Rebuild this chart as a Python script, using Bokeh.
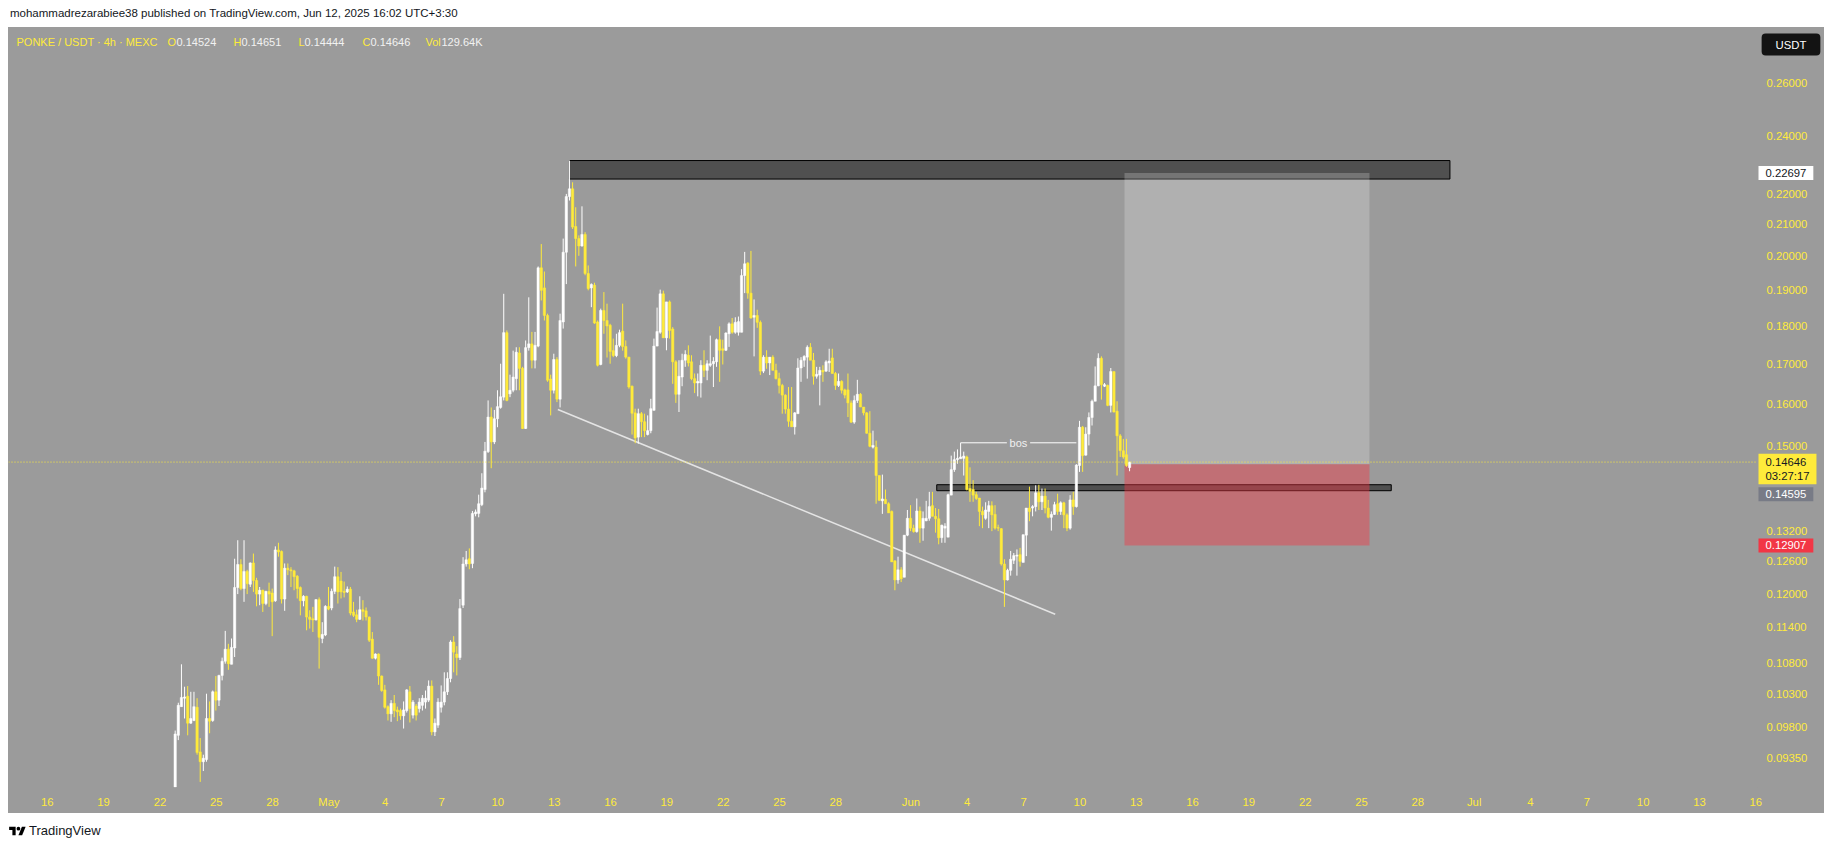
import numpy as np
import pandas as pd
from bokeh.plotting import figure
from bokeh.models import (Range1d, FixedTicker, PrintfTickFormatter, Label,
                          ColumnDataSource, Div, Span)
from bokeh.layouts import column, row
from bokeh.embed import file_html
from bokeh.resources import INLINE

# ---------------------------------------------------------------------------
# PONKE / USDT, 4h candles on MEXC (times shown in UTC+3:30)
# ---------------------------------------------------------------------------
first_open = "2025-04-22 19:30"

opens = [
    .0895, .0968, .1011, .1024, .1027, .0986, .0990, .1010, .0944, .0930,
    .0933, .0993, .0990, .1034, .1021, .1060, .1083, .1103, .1078, .1105,
    .1211, .1254, .1209, .1241, .1217, .1257, .1224, .1199, .1206, .1182,
    .1204, .1201, .1187, .1282, .1279, .1190, .1247, .1244, .1242, .1232,
    .1211, .1187, .1195, .1158, .1155, .1153, .1189, .1121, .1127, .1177,
    .1174, .1204, .1231, .1223, .1204, .1203, .1208, .1167, .1162, .1154,
    .1171, .1169, .1158, .1120, .1088, .1095, .1059, .1037, .1011, .1000,
    .1016, .1006, .1005, .0997, .1005, .1034, .0998, .1012, .1008, .1013,
    .1018, .1021, .1043, .0973, .0983, .1010, .1018, .1034, .1055, .1115,
    .1095, .1089, .1179, .1255, .1265, .1256, .1354, .1355, .1373, .1405,
    .1488, .1568, .1510, .1564, .1591, .1616, .1782, .1624, .1633, .1662,
    .1728, .1688, .1541, .1742, .1752, .1709, .1746, .1966, .1907, .1829,
    .1661, .1633, .1711, .1611, .1811, .2013, .2190, .2216, .2093, .2055,
    .2032, .2068, .1949, .1907, .1915, .1811, .1698, .1843, .1815, .1802,
    .1734, .1721, .1748, .1786, .1745, .1717, .1643, .1578, .1521, .1576,
    .1557, .1527, .1536, .1584, .1746, .1783, .1890, .1768, .1867, .1792,
    .1705, .1623, .1666, .1709, .1722, .1705, .1662, .1651, .1651, .1696,
    .1683, .1696, .1700, .1705, .1763, .1739, .1735, .1779, .1806, .1783,
    .1783, .1783, .1943, .1980, .1892, .1824, .1829, .1810, .1681, .1717,
    .1702, .1717, .1683, .1662, .1645, .1621, .1587, .1558, .1545, .1576,
    .1689, .1709, .1717, .1743, .1709, .1668, .1671, .1683, .1681, .1702,
    .1715, .1675, .1645, .1655, .1634, .1634, .1602, .1556, .1608, .1623,
    .1592, .1578, .1530, .1498, .1498, .1435, .1381, .1384, .1375, .1359,
    .1261, .1225, .1244, .1230, .1311, .1345, .1325, .1318, .1360, .1325,
    .1340, .1345, .1371, .1349, .1344, .1306, .1325, .1307, .1393, .1448,
    .1470, .1472, .1473, .1476, .1407, .1405, .1394, .1387, .1359, .1345,
    .1359, .1371, .1353, .1326, .1324, .1255, .1225, .1243, .1262, .1270,
    .1273, .1258, .1311, .1366, .1366, .1369, .1398, .1379, .1391, .1366,
    .1347, .1353, .1375, .1359, .1377, .1352, .1325, .1383, .1369, .1457,
    .1544, .1480, .1528, .1567, .1606, .1644, .1714, .1643, .1645, .1596,
    .1680, .1582, .1524, .1490, .1481, .14524,
]

highs = [
    .0975, .1017, .1078, .1042, .1043, .1034, .1034, .1024, .0964, .0940,
    .1031, .1019, .1036, .1059, .1061, .1089, .1134, .1112, .1121, .1265,
    .1301, .1264, .1301, .1244, .1258, .1275, .1229, .1212, .1207, .1205,
    .1220, .1209, .1289, .1296, .1281, .1256, .1256, .1249, .1244, .1234,
    .1213, .1197, .1196, .1170, .1176, .1190, .1193, .1149, .1179, .1212,
    .1209, .1250, .1249, .1240, .1222, .1213, .1212, .1185, .1171, .1195,
    .1188, .1175, .1159, .1132, .1096, .1096, .1060, .1045, .1013, .1021,
    .1029, .1011, .1008, .1019, .1038, .1043, .1021, .1015, .1024, .1029,
    .1036, .1052, .1052, .0993, .1024, .1044, .1065, .1065, .1118, .1125,
    .1108, .1190, .1268, .1280, .1285, .1360, .1363, .1394, .1440, .1510,
    .1608, .1591, .1585, .1633, .1700, .1890, .1788, .1672, .1734, .1743,
    .1743, .1692, .1761, .1880, .1784, .1784, .1970, .2038, .1955, .1834,
    .1672, .1726, .1717, .1834, .2055, .2199, .2313, .2238, .2155, .2065,
    .2158, .2075, .1973, .1920, .1922, .1815, .1848, .1895, .1862, .1806,
    .1766, .1779, .1790, .1862, .1761, .1718, .1645, .1588, .1588, .1580,
    .1576, .1572, .1612, .1766, .1851, .1902, .1899, .1867, .1871, .1797,
    .1709, .1709, .1726, .1735, .1748, .1722, .1675, .1675, .1709, .1735,
    .1709, .1774, .1717, .1766, .1799, .1763, .1783, .1810, .1822, .1824,
    .1826, .1962, .2014, .1983, .2017, .1874, .1845, .1815, .1722, .1735,
    .1717, .1722, .1700, .1677, .1649, .1623, .1641, .1641, .1580, .1714,
    .1717, .1722, .1748, .1754, .1728, .1692, .1692, .1696, .1709, .1739,
    .1739, .1679, .1675, .1658, .1637, .1675, .1608, .1620, .1659, .1626,
    .1592, .1580, .1582, .1536, .1513, .1435, .1437, .1405, .1378, .1361,
    .1262, .1269, .1249, .1311, .1362, .1372, .1332, .1386, .1369, .1359,
    .1381, .1400, .1400, .1366, .1364, .1332, .1335, .1396, .1479, .1488,
    .1493, .1508, .1488, .1479, .1453, .1425, .1400, .1387, .1369, .1378,
    .1381, .1380, .1372, .1332, .1325, .1264, .1246, .1280, .1276, .1283,
    .1286, .1312, .1366, .1411, .1372, .1414, .1415, .1407, .1407, .1383,
    .1359, .1379, .1396, .1380, .1379, .1355, .1393, .1400, .1460, .1559,
    .1547, .1544, .1579, .1610, .1693, .1727, .1719, .1651, .1647, .1689,
    .1680, .1606, .1528, .1517, .1517, .14651,
]

lows = [
    .0895, .0961, .1011, .0993, .0968, .0985, .0989, .0940, .0902, .0917,
    .0930, .0971, .0988, .1005, .1012, .1052, .1079, .1069, .1078, .1090,
    .1199, .1206, .1185, .1199, .1212, .1203, .1177, .1179, .1167, .1179,
    .1176, .1125, .1185, .1269, .1182, .1169, .1234, .1212, .1206, .1191,
    .1161, .1177, .1135, .1138, .1132, .1152, .1071, .1113, .1125, .1170,
    .1170, .1199, .1182, .1191, .1193, .1201, .1161, .1158, .1149, .1153,
    .1152, .1152, .1115, .1087, .1086, .1045, .1034, .1008, .0990, .0988,
    .0995, .0989, .0991, .0978, .1002, .0987, .0993, .0990, .1002, .1005,
    .1008, .1018, .0968, .0967, .0979, .1002, .1013, .1029, .1049, .1065,
    .1060, .1085, .1174, .1250, .1245, .1247, .1349, .1347, .1370, .1399,
    .1485, .1451, .1505, .1544, .1588, .1608, .1606, .1616, .1628, .1633,
    .1633, .1540, .1540, .1734, .1688, .1688, .1743, .1871, .1815, .1654,
    .1572, .1625, .1604, .1591, .1793, .1918, .2177, .2085, .1970, .2002,
    .2030, .1944, .1900, .1852, .1806, .1693, .1696, .1779, .1716, .1700,
    .1717, .1717, .1743, .1734, .1713, .1637, .1527, .1507, .1506, .1521,
    .1521, .1525, .1530, .1584, .1746, .1779, .1768, .1735, .1766, .1649,
    .1602, .1580, .1643, .1692, .1693, .1658, .1626, .1618, .1615, .1666,
    .1658, .1692, .1641, .1692, .1654, .1698, .1733, .1744, .1779, .1779,
    .1774, .1783, .1892, .1876, .1820, .1719, .1795, .1671, .1676, .1687,
    .1671, .1683, .1660, .1625, .1576, .1576, .1545, .1545, .1527, .1576,
    .1654, .1692, .1662, .1709, .1647, .1662, .1596, .1654, .1679, .1679,
    .1675, .1634, .1641, .1625, .1613, .1568, .1554, .1552, .1602, .1592,
    .1572, .1529, .1498, .1495, .1375, .1381, .1354, .1375, .1356, .1259,
    .1206, .1218, .1221, .1230, .1309, .1319, .1316, .1316, .1296, .1300,
    .1339, .1340, .1349, .1316, .1293, .1296, .1296, .1307, .1393, .1443,
    .1461, .1472, .1435, .1403, .1379, .1379, .1383, .1329, .1325, .1342,
    .1325, .1319, .1322, .1319, .1252, .1176, .1224, .1233, .1255, .1233,
    .1250, .1258, .1270, .1339, .1349, .1359, .1362, .1362, .1355, .1345,
    .1320, .1352, .1352, .1352, .1325, .1319, .1322, .1352, .1367, .1443,
    .1443, .1479, .1502, .1548, .1606, .1643, .1610, .1641, .1594, .1579,
    .1579, .1435, .1476, .1472, .1454, .14444,
]

closes = [
    .0970, .1013, .1025, .1026, .0986, .0993, .1011, .0943, .0930, .0935,
    .0993, .0989, .1034, .1021, .1060, .1083, .1103, .1079, .1106, .1211,
    .1254, .1209, .1241, .1218, .1257, .1224, .1199, .1206, .1182, .1204,
    .1199, .1185, .1282, .1278, .1190, .1247, .1244, .1242, .1231, .1209,
    .1187, .1195, .1158, .1154, .1153, .1189, .1123, .1128, .1177, .1172,
    .1204, .1231, .1203, .1203, .1202, .1208, .1165, .1161, .1154, .1171,
    .1168, .1158, .1118, .1088, .1095, .1059, .1036, .1010, .1000, .1016,
    .1005, .1003, .0997, .1006, .1037, .1008, .1018, .0998, .1018, .1024,
    .1024, .1043, .0973, .0986, .1018, .1018, .1034, .1055, .1115, .1098,
    .1089, .1173, .1255, .1263, .1255, .1355, .1358, .1375, .1408, .1489,
    .1568, .1510, .1564, .1593, .1617, .1782, .1608, .1633, .1666, .1730,
    .1688, .1541, .1742, .1752, .1709, .1748, .1966, .1900, .1829, .1658,
    .1633, .1711, .1611, .1815, .2013, .2190, .2216, .2091, .2055, .2032,
    .2068, .1949, .1905, .1917, .1808, .1696, .1843, .1815, .1800, .1732,
    .1721, .1748, .1782, .1745, .1717, .1641, .1577, .1519, .1576, .1557,
    .1536, .1536, .1588, .1746, .1785, .1890, .1768, .1867, .1788, .1705,
    .1623, .1668, .1709, .1724, .1702, .1662, .1651, .1655, .1696, .1683,
    .1700, .1700, .1706, .1763, .1735, .1735, .1781, .1806, .1783, .1810,
    .1812, .1943, .1978, .1892, .1822, .1829, .1810, .1681, .1717, .1702,
    .1717, .1683, .1662, .1645, .1621, .1587, .1558, .1545, .1578, .1689,
    .1709, .1719, .1743, .1709, .1668, .1673, .1683, .1679, .1705, .1707,
    .1675, .1645, .1655, .1633, .1621, .1602, .1556, .1608, .1623, .1592,
    .1578, .1530, .1500, .1502, .1435, .1382, .1385, .1375, .1356, .1259,
    .1225, .1244, .1227, .1311, .1345, .1325, .1318, .1360, .1325, .1345,
    .1345, .1369, .1349, .1344, .1306, .1331, .1329, .1394, .1448, .1470,
    .1473, .1476, .1478, .1405, .1401, .1393, .1386, .1359, .1352, .1362,
    .1371, .1352, .1325, .1325, .1255, .1225, .1243, .1264, .1271, .1272,
    .1260, .1312, .1366, .1359, .1369, .1398, .1379, .1391, .1366, .1347,
    .1353, .1373, .1359, .1377, .1352, .1325, .1383, .1369, .1458, .1544,
    .1479, .1528, .1567, .1606, .1644, .1714, .1647, .1647, .1596, .1680,
    .1580, .1524, .1490, .1476, .1457, .14646,
]

# price scale ticks (USDT) and time scale ticks
price_ticks = [0.26, 0.24, 0.22, 0.21, 0.20, 0.19, 0.18, 0.17, 0.16, 0.15,
               0.132, 0.126, 0.12, 0.114, 0.108, 0.103, 0.098, 0.0935]
tick_dates = ["2025-04-16", "2025-04-19", "2025-04-22", "2025-04-25", "2025-04-28",
              "2025-05-01", "2025-05-04", "2025-05-07", "2025-05-10", "2025-05-13",
              "2025-05-16", "2025-05-19", "2025-05-22", "2025-05-25", "2025-05-28",
              "2025-06-01", "2025-06-04", "2025-06-07", "2025-06-10", "2025-06-13",
              "2025-06-16", "2025-06-19", "2025-06-22", "2025-06-25", "2025-06-28",
              "2025-07-01", "2025-07-04", "2025-07-07", "2025-07-10", "2025-07-13",
              "2025-07-16"]

# drawings
zone_top = dict(start="2025-05-13 19:30", end="2025-06-29 17:00", bottom=0.2249)
zone_mid = dict(start="2025-06-02 09:00", end="2025-06-26 14:00", top=0.14152, bottom=0.14024)
trend = dict(start="2025-05-13 04:40", end="2025-06-08 16:25", p0=0.1586, p1=0.1163)
bos_from, bos_to = 251, 288          # candle indices: swing high and breaking candle
position = dict(start="2025-06-12 09:00", end="2025-06-25 10:10",
                target=0.22697, entry=0.14595, stop=0.12907)
last_price = closes[-1]
bar_countdown = "03:27:17"

# ---------------------------------------------------------------------------
BG = "#9b9b9b"
YELLOW = "#ffeb3b"
WHITE = "#ffffff"
INK = "#131722"
FONT = "Liberation Sans"

origin = pd.Timestamp("2025-05-01 00:00")


def to_day(ts):
    return (pd.Timestamp(ts) - origin) / pd.Timedelta(days=1)


times = pd.date_range(first_open, periods=len(closes), freq="4h")
xs = np.asarray((times - origin) / pd.Timedelta(days=1), dtype=float)

o = np.array(opens)
c = np.array(closes)
h = np.maximum(np.array(highs), np.maximum(o, c))
l = np.minimum(np.array(lows), np.minimum(o, c))
up = c >= o

src = ColumnDataSource(dict(
    x=xs, high=h, low=l,
    top=np.maximum(o, c), bottom=np.minimum(o, c),
    color=np.where(up, WHITE, YELLOW),
))

FIG_W, FIG_H = 1816, 786
RIGHT_W, BOTTOM_H = 67, 26
FRAME_W, FRAME_H = FIG_W - RIGHT_W, FIG_H - BOTTOM_H
PX_PER_DAY = 18.775
x_left = to_day("2025-05-01") - 320.4 / PX_PER_DAY
x_right = x_left + FRAME_W / PX_PER_DAY

p = figure(width=FIG_W, height=FIG_H,
           x_range=Range1d(x_left, x_right), y_range=Range1d(0.08944, 0.28297),
           y_axis_type="log", y_axis_location="right",
           output_backend="svg", toolbar_location=None,
           min_border_left=0, min_border_top=0,
           min_border_right=RIGHT_W, min_border_bottom=BOTTOM_H,
           background_fill_color=BG, border_fill_color=BG,
           outline_line_color=None, margin=(0, 0, 0, 8),
           styles={"background-color": BG})
p.grid.visible = False

# price axis
yax = p.yaxis[0]
yax.ticker = FixedTicker(ticks=price_ticks)
yax.formatter = PrintfTickFormatter(format="%.5f")
yax.axis_line_color = None
yax.major_tick_line_color = None
yax.minor_tick_line_color = None
yax.major_tick_out = 0
yax.major_tick_in = 0
yax.minor_tick_out = 0
yax.major_label_text_color = YELLOW
yax.major_label_text_font = FONT
yax.major_label_text_font_size = "11.3px"
yax.major_label_standoff = 9

# time axis
tick_ts = pd.to_datetime(tick_dates)
tick_x = [float(to_day(t)) for t in tick_ts]
tick_lbl = [t.strftime("%b") if t.day == 1 else str(t.day) for t in tick_ts]
xax = p.xaxis[0]
xax.ticker = FixedTicker(ticks=tick_x)
xax.major_label_overrides = {k: v for k, v in zip(tick_x, tick_lbl)}
xax.axis_line_color = None
xax.major_tick_line_color = None
xax.minor_tick_line_color = None
xax.major_tick_out = 0
xax.major_tick_in = 0
xax.minor_tick_out = 0
xax.major_label_text_color = YELLOW
xax.major_label_text_font = FONT
xax.major_label_text_font_size = "11.3px"
xax.major_label_standoff = 8

# supply zone above the top and the small zone under price
p.quad(left=to_day(zone_top["start"]), right=to_day(zone_top["end"]),
       bottom=zone_top["bottom"], top=float(h.max()),
       fill_color="#505050", line_color="#000000", line_width=1)
p.quad(left=to_day(zone_mid["start"]), right=to_day(zone_mid["end"]),
       bottom=zone_mid["bottom"], top=zone_mid["top"],
       fill_color="#505050", line_color="#000000", line_width=1)

# long position: target and stop areas
p.quad(left=to_day(position["start"]), right=to_day(position["end"]),
       bottom=position["entry"], top=position["target"],
       fill_color="#ffffff", fill_alpha=0.21, line_color=None)
p.quad(left=to_day(position["start"]), right=to_day(position["end"]),
       bottom=position["stop"], top=position["entry"],
       fill_color="#f23645", fill_alpha=0.44, line_color=None)

# descending trend line
p.line([to_day(trend["start"]), to_day(trend["end"])], [trend["p0"], trend["p1"]],
       line_color="#e4e4e4", line_width=1.5)

# break of structure
bos_level = float(h[bos_from])
bx0, bx1 = xs[bos_from], xs[bos_to]
bmid = 0.5 * (bx0 + bx1)
gap = 0.62
p.segment(x0=[bx0, bmid + gap], y0=[bos_level, bos_level],
          x1=[bmid - gap, bx1], y1=[bos_level, bos_level],
          line_color=WHITE, line_width=1)
p.add_layout(Label(x=bmid, y=bos_level, text="bos", text_color="#f0f0f0",
                   text_font=FONT, text_font_size="11px",
                   text_align="center", text_baseline="middle"))

# last price line
p.add_layout(Span(location=last_price, dimension="width", line_color=YELLOW,
                  line_dash="1 2", line_width=1))

# candles
p.segment(x0="x", y0="low", x1="x", y1="high", source=src,
          line_color="color", line_width=1)
p.vbar(x="x", width=0.125, top="top", bottom="bottom", source=src,
       fill_color="color", line_color="color", line_width=0.5)

# header legend (screen offsets from the pane's left edge)
hdr_y = FRAME_H - 14
VAL = "#f2f2f2"
parts = [("PONKE / USDT · 4h · MEXC", 8, YELLOW),
         ("O", 159, YELLOW), ("0.14524", 168, VAL),
         ("H", 225, YELLOW), ("0.14651", 233, VAL),
         ("L", 290, YELLOW), ("0.14444", 296, VAL),
         ("C", 354, YELLOW), ("0.14646", 362, VAL),
         ("Vol", 417, YELLOW), ("129.64K", 433, VAL)]
for txt, px, col in parts:
    p.add_layout(Label(x=px, y=hdr_y, x_units="screen", y_units="screen",
                       text=txt, text_color=col, text_font=FONT,
                       text_font_size="11px", text_baseline="middle"))

# ---------------------------------------------------------------------------
# price-scale tags: a transparent pane laid over the price axis,
# sharing the price range of the chart
# ---------------------------------------------------------------------------
tags = figure(frame_width=RIGHT_W, frame_height=FRAME_H,
              x_range=Range1d(0, RIGHT_W), y_range=p.y_range,
              y_axis_type="log", x_axis_location=None, y_axis_location=None,
              output_backend="svg", toolbar_location=None,
              min_border=0, min_border_left=0, min_border_right=0,
              min_border_top=0, min_border_bottom=0,
              background_fill_color=None, border_fill_color=None,
              outline_line_color=None, margin=(0, 0, 0, -RIGHT_W))
tags.grid.visible = False


def tag(text, price, bg, fg, dy=0, pad=(7, 3)):
    tags.add_layout(Label(x=1, y=price, x_units="data", y_units="data",
                          text=text, text_color=fg, text_font=FONT,
                          text_font_size="11.3px", text_align="left",
                          text_baseline="middle", y_offset=dy,
                          background_fill_color=bg, padding=pad))


tag(f"{position['target']:.5f}", position["target"], "#ffffff", INK)
tag(f"{last_price:.5f}\n{bar_countdown}", last_price, YELLOW, INK, dy=-7, pad=(7, 2))
tag(f"{position['entry']:.5f}", position["entry"], "#787b86", "#ffffff", dy=-30)
tag(f"{position['stop']:.5f}", position["stop"], "#f23645", "#ffffff")

tags.add_layout(Label(x=33.5, y=FRAME_H - 17, x_units="screen", y_units="screen",
                      text="USDT", text_color="#ffffff", text_font=FONT,
                      text_font_size="11.3px", text_align="center",
                      text_baseline="middle", background_fill_color="#131313",
                      border_radius=4, padding=(14, 5)))

top_div = Div(
    text=('<div style="height:27px;line-height:27px;padding-left:10px;white-space:nowrap;'
          'font-family:\'Liberation Sans\',sans-serif;font-size:11.5px;color:#131722;">'
          'mohammadrezarabiee38 published on TradingView.com, Jun 12, 2025 16:02 UTC+3:30</div>'),
    width=1835, height=27, margin=(0, 0, 0, 0))

bottom_div = Div(
    text=('<div style="height:37px;display:flex;align-items:center;padding-left:9px;'
          'font-family:\'Liberation Sans\',sans-serif;font-size:13px;color:#131722;">'
          '<svg width="17" height="13" viewBox="0 0 36 28" style="margin-right:3px">'
          '<path d="M14 22H7V11H0V4h14v18z"/><circle cx="20" cy="8" r="4"/>'
          '<path d="M28 22h-8l7.5-18h8L28 22z"/></svg>TradingView</div>'),
    width=1835, height=37, margin=(0, 0, 0, 0))

layout = column(top_div, row(p, tags, spacing=0), bottom_div, spacing=0)
open("out.html", "w").write(file_html(layout, INLINE))
